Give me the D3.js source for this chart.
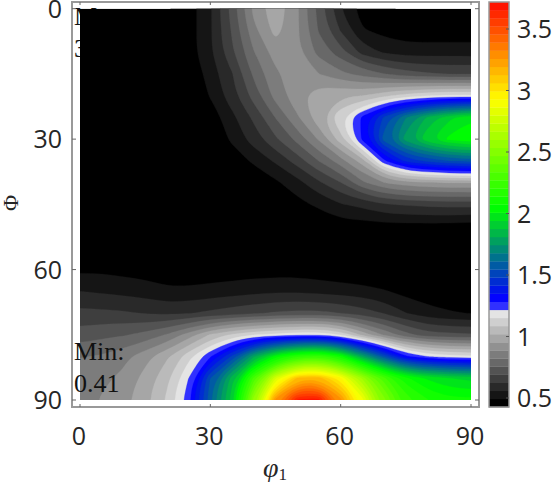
<!DOCTYPE html>
<html><head><meta charset="utf-8">
<style>html,body{margin:0;padding:0;background:#fff;overflow:hidden}svg{display:block}</style>
<script src="https://cdn.jsdelivr.net/npm/d3@7/dist/d3.min.js"></script></head>
<body><svg id="c" width="553" height="482"></svg>
<script>
const phi1Grid = d3.range(0, 95, 5);
const PhiGrid = d3.range(0, 95, 5);
const xTicks = [0, 30, 60, 90];
const yTicks = [0, 30, 60, 90];
const cbTicks = [0.5, 1, 1.5, 2, 2.5, 3, 3.5];
const rows = [
/* 0*/[.42,.42,.42,.42,.42,.46,.55,.72,.91,1.0,.90,.73,.56,.46,.43,.42,.42,.42,.42],
/* 5*/[.42,.42,.42,.42,.42,.46,.55,.70,.87,.98,.90,.75,.62,.50,.47,.45,.45,.45,.45],
/*10*/[.42,.42,.42,.42,.42,.46,.55,.68,.82,.92,.905,.80,.72,.60,.55,.53,.53,.53,.53],
/*15*/[.42,.42,.42,.42,.42,.44,.52,.62,.77,.875,.93,.89,.84,.80,.76,.72,.70,.69,.69],
/*20*/[.42,.42,.42,.42,.42,.42,.50,.60,.72,.85,.93,1.0,1.01,1.02,1.07,1.12,1.15,1.17,1.17],
/*25*/[.42,.42,.42,.42,.42,.42,.45,.54,.64,.76,.88,1.0,1.15,1.30,1.50,1.68,1.83,1.93,2.0],
/*30*/[.42,.42,.42,.42,.42,.42,.42,.51,.59,.68,.78,.90,1.06,1.30,1.58,1.78,1.93,2.03,2.07],
/*35*/[.42,.42,.42,.42,.42,.42,.42,.44,.51,.57,.655,.76,.86,.99,1.27,1.44,1.50,1.55,1.57],
/*40*/[.42,.42,.42,.42,.42,.42,.42,.42,.42,.48,.535,.615,.69,.81,.89,.93,.95,.96,.96],
/*45*/[.42,.42,.42,.42,.42,.42,.42,.42,.42,.42,.47,.51,.555,.58,.62,.635,.645,.65,.65],
/*50*/[.42,.42,.42,.42,.42,.42,.42,.42,.42,.42,.42,.43,.46,.46,.47,.47,.47,.47,.46],
/*55*/[.44,.44,.43,.43,.42,.42,.42,.42,.42,.42,.42,.42,.42,.42,.42,.42,.42,.42,.42],
/*60*/[.48,.48,.47,.46,.44,.44,.45,.45,.46,.46,.46,.45,.44,.43,.42,.42,.41,.41,.41],
/*65*/[.56,.55,.54,.53,.51,.51,.52,.53,.54,.55,.55,.54,.53,.52,.50,.47,.45,.44,.44],
/*70*/[.645,.64,.635,.62,.61,.62,.64,.66,.68,.70,.71,.71,.69,.66,.62,.56,.52,.50,.49],
/*75*/[.72,.74,.75,.78,.83,.92,1.03,1.10,1.15,1.18,1.20,1.21,1.15,1.00,.88,.78,.72,.71,.70],
/*80*/[.82,.83,.87,.93,1.01,1.13,1.28,1.50,1.80,2.05,2.20,2.25,2.10,1.80,1.55,1.30,1.22,1.18,1.17],
/*85*/[.855,.875,.905,.98,1.07,1.22,1.55,1.85,2.30,2.80,3.15,3.18,2.95,2.60,2.30,2.10,2.0,1.95,1.92],
/*90*/[.86,.895,.935,1.0,1.10,1.26,1.60,1.92,2.58,3.30,3.68,3.70,3.30,2.90,2.50,2.25,2.15,2.10,2.10]
];
const x = d3.scaleLinear().domain([0, 90]).range([80, 471]);
const y = d3.scaleLinear().domain([0, 90]).range([8.7, 400]);
const cb = d3.scaleLinear().domain([0.5, 3.5]).range([398, 29]);
const levelStep = (3.73 - 0.427) / 50;
const thresholds = d3.range(50).map(i => 0.427 + i * levelStep);
const colorUp = d3.scaleLinear().domain([1.22, 1.29, 2.02, 2.9, 3.73]).range(['#3030ff','#0000ff','#00ff00','#ffff00','#ff0000']);
function bandColor(i){
  if (i < 12) return d3.rgb(i*20.7, i*20.7, i*20.7).formatHex();
  return d3.color(colorUp(thresholds[i])).formatHex();
}
const svg = d3.select('#c');
const mathFont = '"Liberation Serif", serif';
const tickFont = '"Open Sans", sans-serif';
svg.append('defs').append('clipPath').attr('id','data').append('rect')
  .attr('x',x(0)).attr('y',y(0)).attr('width',x(90)-x(0)).attr('height',y(90)-y(0));

const note = (t,xx,yy) => svg.append('text').attr('x',xx).attr('y',yy)
  .attr('font-family',mathFont).attr('font-size',26).attr('fill','#111').text(t);
note('Max:',74,25); note('3.73',74,57);

// The edge rows and columns are repeated twice outside the clip so that the
// contour smoothing has no border effect inside the plot.
const pad = 2, n = phi1Grid.length, m = PhiGrid.length;
const padded = [];
for (let j = -pad; j < m + pad; j++) for (let i = -pad; i < n + pad; i++)
  padded.push(rows[Math.max(0, Math.min(m - 1, j))][Math.max(0, Math.min(n - 1, i))]);
const contours = d3.contours().size([n + 2 * pad, m + 2 * pad]).thresholds(thresholds)(padded);
const ringLine = d3.line()
  .x(p=>x((p[0]-0.5-pad)*5)).y(p=>y((p[1]-0.5-pad)*5))
  .curve(d3.curveBasisClosed);
const contourPath = c => c.coordinates.map(poly=>poly.map(r=>ringLine(r.slice(0,-1))).join('')).join('');
const g = svg.append('g').attr('clip-path','url(#data)');
g.append('rect').attr('x',x(0)).attr('y',y(0)).attr('width',x(90)-x(0)).attr('height',y(90)-y(0)).attr('fill','#000');
g.selectAll('path').data(contours).join('path').attr('d',contourPath).attr('fill-rule','evenodd')
  .attr('fill',(d,i)=>bandColor(i)).attr('stroke',(d,i)=>bandColor(i)).attr('stroke-width',0.3);

note('Min:',74,360); note('0.41',74,392);

const frameColor = '#999';
svg.append('rect').attr('x',72).attr('y',2).attr('width',407).attr('height',405)
  .attr('fill','none').attr('stroke',frameColor).attr('stroke-width',2);
const tickG = svg.append('g').attr('stroke','#666').attr('stroke-width',1);
xTicks.forEach(t=>{
  tickG.append('line').attr('x1',x(t)).attr('x2',x(t)).attr('y1',407).attr('y2',404);
  tickG.append('line').attr('x1',x(t)).attr('x2',x(t)).attr('y1',2).attr('y2',5);
});
yTicks.forEach(t=>{
  tickG.append('line').attr('y1',y(t)).attr('y2',y(t)).attr('x1',72).attr('x2',76);
  tickG.append('line').attr('y1',y(t)).attr('y2',y(t)).attr('x1',479).attr('x2',475);
});
const tickLabel = (t,xx,yy,a) => svg.append('text').attr('x',xx).attr('y',yy).attr('text-anchor',a)
  .attr('font-family',tickFont).attr('font-size',25).attr('fill','#262626').text(t);
xTicks.forEach(t=>tickLabel(t,x(t)-1,445,'middle'));
yTicks.forEach(t=>tickLabel(t,62,y(t)+9,'end'));

svg.append('text').attr('transform','translate(18,203) rotate(-90)').attr('text-anchor','middle')
  .attr('font-family',mathFont).attr('font-size',22).attr('fill','#262626').text('Φ');
const xl = svg.append('text').attr('x',275).attr('y',477).attr('text-anchor','middle')
  .attr('font-family',mathFont).attr('font-size',28).attr('fill','#262626');
xl.append('tspan').attr('font-style','italic').text('φ');
xl.append('tspan').attr('font-size',17).attr('dy',3).text('1');

const cbTop = 2, cbBot = 407, cbX = 489, cbW = 20, bandH = (cbBot-cbTop)/50;
svg.append('g').selectAll('rect').data(thresholds).join('rect')
  .attr('x',cbX).attr('width',cbW)
  .attr('y',(d,i)=>cbBot-(i+1)*bandH).attr('height',bandH+0.3)
  .attr('fill',(d,i)=>bandColor(i));
svg.append('rect').attr('x',cbX).attr('y',cbTop).attr('width',cbW).attr('height',cbBot-cbTop)
  .attr('fill','none').attr('stroke',frameColor).attr('stroke-width',1.5);
cbTicks.forEach(t=>{
  svg.append('line').attr('x1',cbX+cbW).attr('x2',cbX+cbW-3).attr('y1',cb(t)).attr('y2',cb(t)).attr('stroke','#555');
  tickLabel(t,517,cb(t)+9,'start');
});
</script></body></html>
